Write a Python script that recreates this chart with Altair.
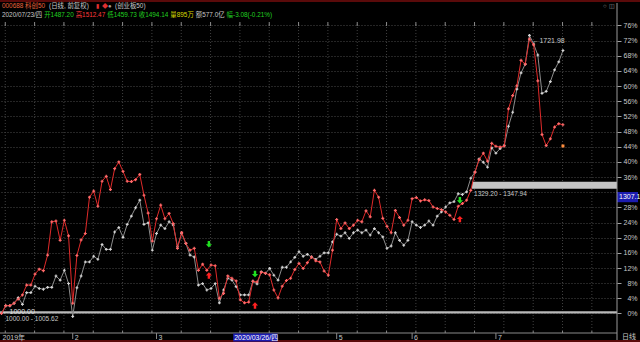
import altair as alt
import pandas as pd

# ---------------- data (percent change from 1000.00 base) ----------------
red = [0, 2.05, 2.1, 2.7, 3.8, 4.9, 7.5, 7.5, 10.4, 11.7,
       11.3, 15.4, 24.2, 24.4, 19.3, 24.6, 20.5, 2.7, 15.3, 19.4,
       21.1, 30.7, 32.3, 28.3, 34.9, 36.2, 32.7, 38.2, 40.0, 37.5,
       34.9, 34.8, 35.3, 36.7, 31.2, 26.5, 19.1, 25.0, 28.6, 25.0,
       26.4, 23.7, 17.2, 21.4, 18.5, 16.7, 17.2, 11.4, 13.0, 11.4,
       12.8, 12.6, 4.0, 5.3, 9.9, 9.3, 8.6, 3.6, 2.8, 3.0,
       8.5, 8.3, 10.9, 10.6, 10.2, 6.2, 4.1, 7.2, 8.7, 9.3,
       11.6, 13.2, 11.9, 13.4, 14.9, 13.9, 13.6, 11.2, 10.1, 16.7,
       24.8, 22.4, 23.9, 22.4, 23.3, 24.6, 24.2, 27.1, 25.5, 32.5,
       30.7, 25.1, 23.0, 21.3, 27.2, 25.3, 23.3, 24.6, 30.3, 30.6,
       29.7, 30.0, 29.8, 28.1, 27.7, 27.4, 26.8, 25.9, 24.8, 28.3,
       29.0, 29.9, 32.5, 37.3, 40.6, 42.3, 40.2, 44.9, 44.1, 43.9,
       44.2, 54.0, 57.5, 60.1, 66.8, 65.8, 72.4, 70.9, 61.4, 47.2,
       44.3, 46.1, 49.2, 50.1, 49.8]
gray = [0, 2.05, 2.05, 2.7, 4.2, 2.4, 5.5, 5.5, 7.2, 6.6,
        6.4, 6.9, 6.9, 9.9, 8.8, 11.4, 7.9, -0.8, 6.8, 9.9,
        13.6, 13.6, 15.1, 14.3, 18.2, 16.9, 16.9, 21.5, 22.7, 20.1,
        23.5, 25.7, 27.9, 29.9, 23.5, 23.9, 16.7, 21.1, 23.3, 22.4,
        24.2, 23.3, 17.6, 21.1, 18.5, 15.4, 14.9, 7.5, 7.9, 6.2,
        6.6, 7.9, 2.8, 6.2, 9.3, 8.8, 7.1, 4.9, 4.9, 4.9,
        8.5, 7.8, 11.0, 10.6, 11.9, 10.1, 8.8, 12.2, 12.2, 13.6,
        14.8, 16.3, 15.1, 15.6, 14.9, 14.3, 15.1, 16.0, 16.0, 18.9,
        20.9, 20.4, 21.3, 19.8, 21.3, 22.0, 21.3, 22.0, 20.7, 22.4,
        21.3, 20.2, 17.2, 17.8, 21.3, 19.3, 18.0, 19.3, 24.2, 23.3,
        22.7, 23.3, 24.4, 23.3, 25.7, 26.8, 28.1, 29.2, 29.5, 31.6,
        31.4, 32.1, 35.7, 37.3, 40.8, 39.9, 38.6, 43.7, 42.3, 43.5,
        44.4, 49.4, 53.1, 59.2, 63.5, 65.8, 73.4, 71.1, 68.2, 58.1,
        58.6, 61.2, 64.3, 66.4, 69.4]
last_extra = [(134, 44.2)]            # orange marker at last bar

month_idx = [17, 37, 80, 98, 118]
month_lab = ["2", "3", "5", "6", "7"]
start_label = "2019年"
cursor_idx = 55.3
cursor_label = "2020/03/26/四"

buy_idx = [49.5, 60.5, 109.4]        # green down arrows
buy_val = [18.3, 10.4, 29.9]
sell_idx = [49.5, 60.5, 109.4]       # red up arrows
sell_val = [10.0, 2.1, 24.9]

band1 = (0.0, 0.562)                 # 1000.00 - 1005.62
band2 = (32.92, 34.79)               # 1329.20 - 1347.94
band2_start = 112.3
peak_idx, peak_val = 126, 72.4
cursor_price_pct = 30.71

header1 = ["000688 科创50", "(日线, 前复权)", "(创业板50)"]
header2 = ["2020/07/23/四", "开1487.20", "高1512.47", "低1459.73", "收1494.14",
           "量895万", "额577.0亿", "幅-3.08(-0.21%)"]

# ---------------- layout / style ----------------
FONT = "Liberation Sans, Noto Sans CJK SC, sans-serif"
W, H = 617, 309
TOP = 24
XDOM = [-0.358, 146.9]
YDOM = [-5.15, 76.39]
RED_LINE, RED_PT = "#e02a2a", "#ff6a6a"
GRAY_LINE, GRAY_PT = "#8c8c8c", "#d4d4d4"
TXT = "#c8c8c8"
FS = 7
HFS = 6.4


def text_w(s, size):
    em = 0.0
    for ch in s:
        if ord(ch) > 0x2e80:
            em += 1.0
        elif ch.isdigit():
            em += 0.556
        elif ch in "./, ":
            em += 0.278
        elif ch in "-()":
            em += 0.333
        elif ch == "%":
            em += 0.889
        else:
            em += 0.6
    return em * size


xs = alt.Scale(domain=XDOM, nice=False, zero=False)
ys = alt.Scale(domain=YDOM, nice=False, zero=False)
Yax = alt.Y("v:Q", scale=ys, axis=alt.Axis(
    orient="right", values=list(range(0, 80, 4)),
    labelExpr="datum.value == 32 ? '' : datum.value + '%'",
    domain=False, ticks=True, tickSize=4, tickColor="#a0a0a0",
    labelColor=TXT, labelFontSize=FS, labelFont=FONT, labelAlign="right",
    labelPadding=16, labelBaseline="middle",
    grid=True, gridColor="#4a4a4a", gridDash=[1, 2], title=None))
X = lambda f: alt.X(f, scale=xs, axis=None)

df = pd.DataFrame({"i": list(range(len(red))) * 2,
                   "v": red + gray,
                   "s": ["red"] * len(red) + ["gray"] * len(gray)})
dred = df[df.s == "red"]
dgray = df[df.s == "gray"]

layers = []

# vertical gridlines every 7 bars
vg = pd.DataFrame({"g": [0.9 + 7 * k for k in range(21)]})
layers.append(alt.Chart(vg).mark_rule(color="#404040", strokeDash=[1, 2], strokeWidth=1)
              .encode(x=X("g:Q"), y=alt.value(0), y2=alt.value(H)))
layers.append(alt.Chart(vg).mark_rule(color="#8a8a8a", strokeWidth=1)
              .encode(x=X("g:Q"), y=alt.value(-2), y2=alt.value(2)))
layers.append(alt.Chart(vg).mark_rule(color="#8a8a8a", strokeWidth=1)
              .encode(x=X("g:Q"), y=alt.value(H - 2), y2=alt.value(H)))

# bands
b = pd.DataFrame({"a": [XDOM[0]], "b": [XDOM[1]], "v": [band1[0]], "v2": [band1[1]]})
layers.append(alt.Chart(b).mark_rect(color="#b8b8b8")
              .encode(x=X("a:Q"), x2="b:Q", y=Yax, y2="v2:Q"))
b2 = pd.DataFrame({"a": [band2_start], "b": [XDOM[1]], "v": [band2[0]], "v2": [band2[1]]})
layers.append(alt.Chart(b2).mark_rect(color="#c4c4c4")
              .encode(x=X("a:Q"), x2="b:Q", y=Yax, y2="v2:Q"))

# lines + points
layers.append(alt.Chart(dgray).mark_line(color=GRAY_LINE, strokeWidth=1)
              .encode(x=X("i:Q"), y=Yax))
layers.append(alt.Chart(dgray).mark_point(shape="cross", filled=True, size=8, color=GRAY_PT, opacity=1)
              .encode(x=X("i:Q"), y=Yax))
layers.append(alt.Chart(dred).mark_line(color=RED_LINE, strokeWidth=1)
              .encode(x=X("i:Q"), y=Yax))
layers.append(alt.Chart(dred).mark_point(shape="cross", filled=True, size=9, color=RED_PT, opacity=1)
              .encode(x=X("i:Q"), y=Yax))
ex = pd.DataFrame({"i": [p[0] for p in last_extra], "v": [p[1] for p in last_extra]})
layers.append(alt.Chart(ex).mark_point(shape="square", filled=True, size=9, color="#ff8c3c", opacity=1)
              .encode(x=X("i:Q"), y=Yax))

# arrows
UP = "M0,-1L0.95,0L0.38,0L0.38,1L-0.38,1L-0.38,0L-0.95,0Z"
DOWN = "M0,1L0.95,0L0.38,0L0.38,-1L-0.38,-1L-0.38,0L-0.95,0Z"
layers.append(alt.Chart(pd.DataFrame({"i": buy_idx, "v": buy_val}))
              .mark_point(shape=DOWN, filled=True, size=42, color="#20e020", opacity=1)
              .encode(x=X("i:Q"), y=Yax))
layers.append(alt.Chart(pd.DataFrame({"i": sell_idx, "v": sell_val}))
              .mark_point(shape=UP, filled=True, size=42, color="#ff2020", opacity=1)
              .encode(x=X("i:Q"), y=Yax))

# in-plot annotations (data anchored)
def dtext(t, i, v, dx=0, dy=0, color=TXT, size=FS, align="left", baseline="middle"):
    return (alt.Chart(pd.DataFrame({"i": [i], "v": [v], "t": [t]}))
            .mark_text(align=align, baseline=baseline, dx=dx, dy=dy, color=color,
                       fontSize=size, font=FONT)
            .encode(x=X("i:Q"), y=Yax, text="t:N"))

layers.append(dtext("\u2190" + "1000.00", 0, 0, dx=1, dy=-1.5, color="#e0e0e0"))
layers.append(dtext("1000.00 - 1005.62", 0, 0, dx=4, dy=6, size=6.5))
layers.append(dtext("\u2190" + "1721.98", peak_idx, peak_val, dx=3, dy=2))
layers.append(dtext("1329.20 - 1347.94", band2_start, band2[0], dx=2, dy=5, size=6.5))

# cursor price box on the axis
cp = pd.DataFrame({"v": [cursor_price_pct + 1.35], "v2": [cursor_price_pct - 1.35]})
layers.append(alt.Chart(cp).mark_rect(color="#1c1cb0")
              .encode(x=alt.value(W), x2=alt.value(W + 21), y=Yax, y2="v2:Q"))
layers.append(alt.Chart(pd.DataFrame({"v": [cursor_price_pct], "t": ["1307.1"]}))
              .mark_text(align="left", baseline="middle", color="#ffffff", fontSize=FS, font=FONT)
              .encode(x=alt.value(W + 2), y=Yax, text="t:N"))

# frame lines
def vrule(x1, x2, y1, y2, color, w=1):
    return (alt.Chart(pd.DataFrame({"a": [0]})).mark_rule(color=color, strokeWidth=w)
            .encode(x=alt.value(x1), x2=alt.value(x2), y=alt.value(y1), y2=alt.value(y2)))

layers.append(vrule(0, W, H, H, "#8a8a8a"))                 # bottom axis line
layers.append(vrule(W, W, -TOP + 3, 342 - TOP, "#9a9a9a"))  # right separator
layers.append(vrule(0, 640, -TOP + 1, -TOP + 1, "#5a0a0a", 2))
layers.append(vrule(0, 640, 341 - TOP, 341 - TOP, "#5a0a0a", 2))

# x labels
mt = pd.DataFrame({"i": month_idx, "t": month_lab})
layers.append(alt.Chart(mt).mark_rule(color="#8a8a8a")
              .encode(x=X("i:Q"), y=alt.value(H), y2=alt.value(H + 6)))
layers.append(alt.Chart(mt).mark_text(align="left", baseline="middle", dx=2, color=TXT,
                                      fontSize=FS, font=FONT)
              .encode(x=X("i:Q"), y=alt.value(H + 4.5), text="t:N"))
layers.append(alt.Chart(pd.DataFrame({"i": [0], "t": [start_label]}))
              .mark_text(align="left", baseline="middle", dx=1, color=TXT, fontSize=FS, font=FONT)
              .encode(x=X("i:Q"), y=alt.value(H + 4.5), text="t:N"))
layers.append(alt.Chart(pd.DataFrame({"a": [cursor_idx], "b": [cursor_idx + 10.6]}))
              .mark_rect(color="#1c1cb0")
              .encode(x=X("a:Q"), x2="b:Q", y=alt.value(H + 0.5), y2=alt.value(H + 8.5)))
layers.append(alt.Chart(pd.DataFrame({"i": [cursor_idx], "t": [cursor_label]}))
              .mark_text(align="left", baseline="middle", dx=1, color="#ffffff", fontSize=FS, font=FONT)
              .encode(x=X("i:Q"), y=alt.value(H + 4.5), text="t:N"))

# header / corner texts (pixel anchored)
def ptext(t, px, py, color, size=FS, align="left"):
    return (alt.Chart(pd.DataFrame({"t": [t]}))
            .mark_text(align=align, baseline="middle", color=color, fontSize=size, font=FONT)
            .encode(x=alt.value(px), y=alt.value(py - TOP), text="t:N"))

layers.append(ptext("日线", 622, 337, TXT))
h1_pos = [2, 49, 115]
h1_col = ["#e8643c", TXT, TXT]
for t, px, c in zip(header1, h1_pos, h1_col):
    layers.append(ptext(t, px, 6, c, size=HFS))
layers.append(ptext("\u25ae", 96, 6, "#e03030", size=6))
layers.append(ptext("\u25c6", 102, 6, "#e03030", size=6))
layers.append(ptext("\u25cf", 108, 6, "#a0a0a0", size=6))
layers.append(ptext("\u25cb", 603, 6, "#a0a0a0", size=6))
layers.append(ptext("\u25eb", 609, 6, "#a0a0a0", size=6))
h2_col = [TXT, "#20d020", "#ff3a3a", "#20d020", "#20d020", "#d8d800", TXT, "#20d020"]
px = 2.0
for t, c in zip(header2, h2_col):
    layers.append(ptext(t, px, 15.3, c, size=HFS))
    px += text_w(t, HFS) + 2.0

chart = (alt.layer(*layers)
         .properties(width=W, height=H,
                     padding={"left": 0, "top": TOP, "right": 640 - W, "bottom": 342 - TOP - H},
                     autosize=alt.AutoSizeParams(type="none"),
                     background="#000000")
         .configure_view(stroke=None))

chart.save("out.html", embed_options={"renderer": "svg", "actions": False})
